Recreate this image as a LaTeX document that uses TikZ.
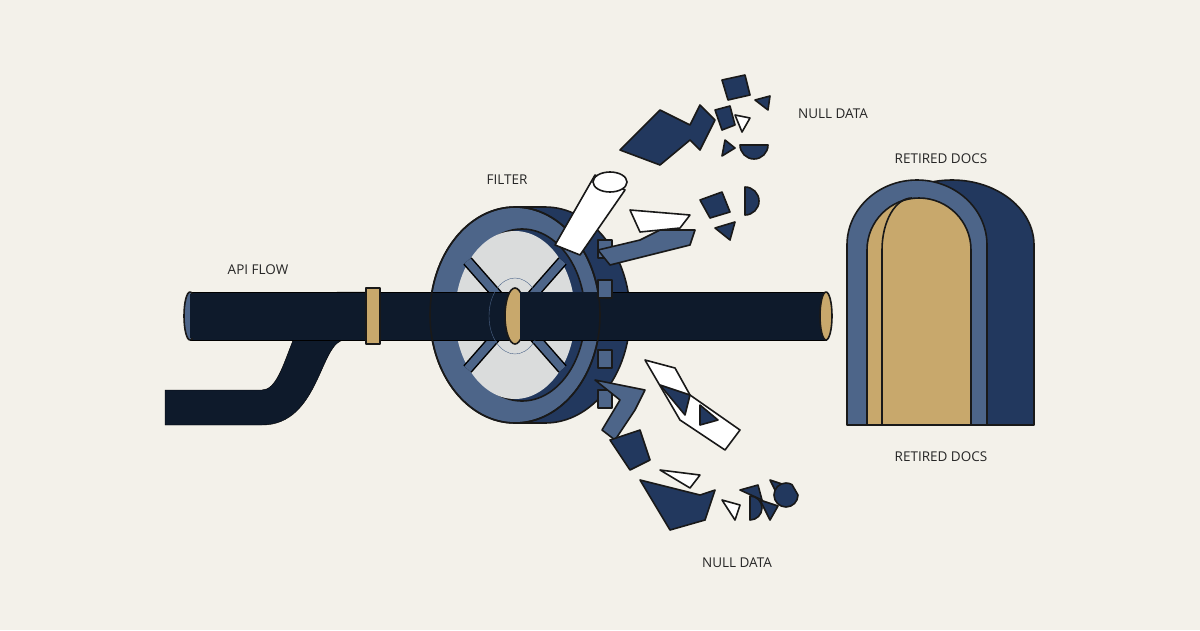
\documentclass[tikz,border=0pt]{standalone}
\usepackage{fontspec}
\setmainfont{Open Sans}
\usetikzlibrary{shapes.geometric}
\begin{document}
\begin{tikzpicture}[x=1pt,y=-1pt,
  lbl/.style={font=\fontsize{13.5}{16}\selectfont, text=black!85},
  ol/.style={draw=black!90, line width=1.6pt, line join=round},
  navy/.style={ol, fill=pnavy},
  mid/.style={ol, fill=pmid},
  wht/.style={ol, fill=white},
  tan/.style={ol, fill=ptan}]
\definecolor{bg}{HTML}{F3F1EA}
\definecolor{pipe}{HTML}{0E1A2B}
\definecolor{pnavy}{HTML}{22385E}
\definecolor{pmid}{HTML}{4D6589}
\definecolor{ptan}{HTML}{C8A86C}
\fill[bg] (0,0) rectangle (1200,630);
\useasboundingbox (0,0) rectangle (1200,630);
% lower pipe with S-curve
\fill[pipe, draw=black] (165,390) -- (262,390) .. controls (290,390) and (290,292) .. (340,292) -- (372,292) -- (372,340) -- (345,340)
  .. controls (320,340) and (320,425) .. (262,425) -- (165,425) -- cycle;
% upper left pipe
\fill[pipe, draw=black] (190,292) rectangle (372,340);
\draw[ol, fill=pmid] (190,316) ellipse (6 and 24);
\fill[pipe] (190,294) rectangle (200,338);
% wheel back side
\node[ol, fill=pnavy, ellipse, minimum width=170pt, minimum height=216pt] (wb) at (545,315) {};
\fill[pnavy] (515,207) rectangle (545,423);
\draw[ol] (515,207) -- (545,207) (515,423) -- (545,423);
\node[ol, fill=pmid, ellipse, minimum width=170pt, minimum height=216pt] (wf) at (515,315) {};
\node[ol, fill=pnavy, ellipse, minimum width=126pt, minimum height=172pt] (wi) at (522,315) {};
\fill[bg!85!pmid] (515,315) ellipse (60 and 84);
% spokes
\foreach \a in {40,140,220,320}{
  \draw[black, line width=11pt] (515,315) -- ++(\a:62 and 84);
  \draw[pmid, line width=8pt] (515,315) -- ++(\a:62 and 84);}
% main pipe
\fill[pipe, draw=black] (372,292) rectangle (826,340);
\draw[tan] (826,316) ellipse (6 and 24);
% collars
\draw[tan] (366,288) rectangle (380,344);
\draw[pmid] (515,316) ellipse (26 and 38);
\draw[tan] (515,316) ellipse (10 and 28);
\fill[pipe] (520,292) rectangle (600,340);
% outer front rim edge
\draw[ol] (515,315) ellipse (85 and 108);
% rim blocks right side
\foreach \y in {240,280,350,390}{\draw[mid] (598,\y) rectangle (612,\y+18);}
% upward white tube
\draw[wht] (555,245) -- (595,175) -- (625,190) -- (580,255) -- cycle;
\draw[wht] (610,182) ellipse (17 and 10);
% upper fragments
\draw[navy] (620,150) -- (660,110) -- (690,125) -- (700,105) -- (715,120) -- (700,150) -- (690,140) -- (660,165) -- cycle;
\draw[mid] (598,250) -- (640,240) -- (660,230) -- (695,230) -- (690,245) -- (650,255) -- (610,265) -- cycle;
\draw[wht] (630,210) -- (690,215) -- (680,228) -- (640,232) -- cycle;
\draw[navy] (700,200) -- (722,192) -- (730,212) -- (710,218) -- cycle;
\draw[navy] (715,228) -- (735,222) -- (730,240) -- cycle;
\draw[navy] (745,215) arc (90:-90:14) -- cycle;
\draw[navy] (722,80) -- (745,75) -- (750,95) -- (728,100) -- cycle;
\draw[navy] (715,110) -- (730,106) -- (735,125) -- (722,130) -- cycle;
\draw[wht] (735,115) -- (750,118) -- (742,132) -- cycle;
\draw[navy] (740,145) arc (180:0:14) -- cycle;
\draw[navy] (755,100) -- (770,96) -- (768,110) -- cycle;
\draw[navy] (725,140) -- (735,148) -- (722,156) -- cycle;
% lower fragments
\draw[mid] (595,380) -- (645,390) -- (635,410) -- (615,440) -- (602,430) -- (620,400) -- cycle;
\draw[wht] (645,360) -- (675,368) -- (690,395) -- (740,430) -- (725,450) -- (680,420) -- cycle;
\draw[navy] (660,385) -- (690,395) -- (685,415) -- cycle;
\draw[navy] (700,405) -- (718,420) -- (700,425) -- cycle;
\draw[navy] (610,440) -- (640,430) -- (650,460) -- (630,470) -- cycle;
\draw[navy] (640,480) -- (680,490) -- (700,495) -- (715,490) -- (705,520) -- (670,530) -- cycle;
\draw[wht] (660,470) -- (700,475) -- (690,488) -- cycle;
\draw[wht] (722,500) -- (740,505) -- (735,520) -- cycle;
\draw[navy] (740,490) -- (758,485) -- (762,500) -- cycle;
\draw[navy] (750,520) arc (90:-90:12) -- cycle;
\draw[navy] (770,480) -- (785,485) -- (780,500) -- cycle;
\draw[navy] (798,495) arc (0:300:12) -- cycle;
\draw[navy] (760,500) -- (778,506) -- (770,520) -- cycle;
% arch
\draw[navy] (870,425) -- (870,245) arc (180:360:82 and 65) -- (1034,425) -- cycle;
\draw[mid] (847,425) -- (847,245) arc (180:360:70 and 65) -- (987,425) -- cycle;
\draw[tan] (867,425) -- (867,250) arc (180:360:52 and 52) -- (971,425) -- cycle;
\draw[ol] (882,425) -- (882,250) arc (180:270:30 and 52);
% labels
\node[lbl] (l1) at (258,270) {API FLOW};
\node[lbl] (l2) at (507,180) {FILTER};
\node[lbl] (l3) at (833,114) {NULL DATA};
\node[lbl] (l4) at (941,159) {RETIRED DOCS};
\node[lbl] (l5) at (941,457) {RETIRED DOCS};
\node[lbl] (l6) at (737,563) {NULL DATA};
\end{tikzpicture}
\end{document}
